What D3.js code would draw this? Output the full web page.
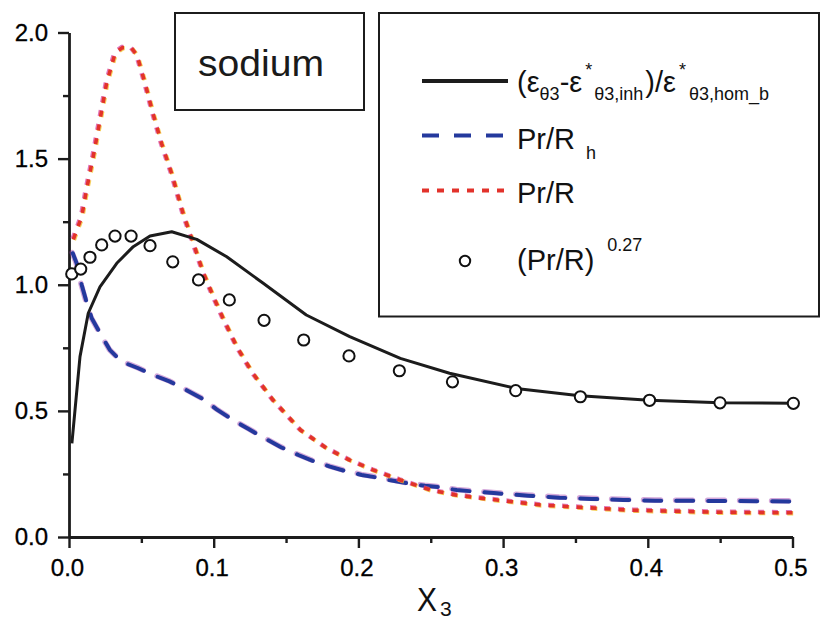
<!DOCTYPE html>
<html>
<head>
<meta charset="utf-8">
<script src="https://cdn.jsdelivr.net/npm/d3@7"></script>
<style>
  html, body { margin: 0; padding: 0; background: #fff; }
  svg { display: block; font-family: "Liberation Sans", Arial, Helvetica, sans-serif; }
</style>
</head>
<body>
<svg id="chart" width="821" height="621"></svg>
<script>
// ---- data ----
// solid: (eps_theta3 - eps*_theta3,inh) / eps*_theta3,hom_b
const solidX = [0.002, 0.0076, 0.0133, 0.0214, 0.033, 0.0444, 0.056, 0.071, 0.0883, 0.109, 0.134, 0.164, 0.194, 0.229, 0.263, 0.309, 0.353, 0.401, 0.450, 0.500];
const solidY = [0.371, 0.715, 0.887, 0.992, 1.085, 1.151, 1.193, 1.210, 1.180, 1.111, 1.007, 0.880, 0.794, 0.708, 0.649, 0.589, 0.560, 0.542, 0.532, 0.530];

// dashed: Pr/R_h
const prRhX = [0.0026, 0.0053, 0.0088, 0.0117, 0.0157, 0.0209, 0.0283, 0.0364, 0.0479, 0.0583, 0.0698, 0.080, 0.0928, 0.102, 0.1147, 0.1244, 0.1366, 0.1465, 0.1585, 0.1684, 0.1804, 0.190, 0.2023, 0.2115, 0.2241, 0.2338, 0.246, 0.2564, 0.268, 0.2956, 0.3174, 0.339, 0.361, 0.383, 0.405, 0.450, 0.500];
const prRhY = [1.125, 1.085, 0.999, 0.940, 0.867, 0.814, 0.741, 0.695, 0.669, 0.642, 0.616, 0.586, 0.546, 0.506, 0.459, 0.427, 0.387, 0.356, 0.325, 0.302, 0.279, 0.263, 0.246, 0.237, 0.223, 0.213, 0.203, 0.197, 0.186, 0.173, 0.164, 0.156, 0.151, 0.147, 0.144, 0.143, 0.141];

// dotted: Pr/R
const prRX = [0.003, 0.0088, 0.0122, 0.0168, 0.021, 0.026, 0.032, 0.037, 0.043, 0.047, 0.0525, 0.058, 0.064, 0.071, 0.079, 0.085, 0.093, 0.100, 0.106, 0.116, 0.127, 0.141, 0.160, 0.178, 0.194, 0.210, 0.229, 0.250, 0.267, 0.286, 0.306, 0.326, 0.346, 0.365, 0.385, 0.411, 0.450, 0.500];
const prRY = [1.18, 1.27, 1.38, 1.51, 1.64, 1.80, 1.92, 1.94, 1.94, 1.91, 1.80, 1.68, 1.56, 1.44, 1.28, 1.18, 1.045, 0.95, 0.873, 0.754, 0.649, 0.543, 0.424, 0.352, 0.305, 0.266, 0.226, 0.186, 0.167, 0.153, 0.140, 0.127, 0.120, 0.114, 0.107, 0.103, 0.098, 0.096];

// circles: (Pr/R)^0.27
const powX = [0.0019, 0.0081, 0.0145, 0.0226, 0.0318, 0.0429, 0.056, 0.0717, 0.0895, 0.1108, 0.1348, 0.1622, 0.1935, 0.2283, 0.265, 0.3087, 0.3534, 0.4012, 0.4499, 0.5006];
const powY = [1.043, 1.062, 1.109, 1.158, 1.193, 1.193, 1.155, 1.091, 1.019, 0.940, 0.859, 0.781, 0.718, 0.659, 0.615, 0.580, 0.556, 0.542, 0.532, 0.530];

const xTicks = [0, 0.1, 0.2, 0.3, 0.4, 0.5];
const xMinorTicks = [0.05, 0.15, 0.25, 0.35, 0.45];
const yTicks = [0, 0.5, 1.0, 1.5, 2.0];
const yMinorTicks = [0.25, 0.75, 1.25, 1.75];

// ---- setup ----
const svg = d3.select("#chart");
const x = d3.scaleLinear().domain([0, 0.5]).range([69, 792.5]);
const y = d3.scaleLinear().domain([0, 2]).range([537, 32.5]);

const zip = (xs, ys) => xs.map((v, i) => [v, ys[i]]);
const line = d3.line().x(d => x(d[0])).y(d => y(d[1])).curve(d3.curveLinear);

const colBlack = "#1c1c1c";
const colBlue = "#24399d";
const colRed = "#e2322b";

// ---- axes ----
const axisX = svg.append("g").attr("transform", `translate(0,${y(0)})`)
  .call(d3.axisBottom(x).tickValues(xTicks).tickFormat(d3.format(".1f"))
    .tickSize(11).tickSizeOuter(0).tickPadding(11));
const axisY = svg.append("g").attr("transform", `translate(${x(0)},0)`)
  .call(d3.axisLeft(y).tickValues(yTicks).tickFormat(d3.format(".1f"))
    .tickSize(11).tickSizeOuter(0).tickPadding(10));

svg.append("g").attr("transform", `translate(0,${y(0)})`)
  .call(d3.axisBottom(x).tickValues(xMinorTicks).tickFormat("").tickSize(6).tickSizeOuter(0))
  .select(".domain").remove();
svg.append("g").attr("transform", `translate(${x(0)},0)`)
  .call(d3.axisLeft(y).tickValues(yMinorTicks).tickFormat("").tickSize(6).tickSizeOuter(0))
  .select(".domain").remove();

svg.selectAll(".domain").attr("stroke", colBlack).attr("stroke-width", 2.8);
svg.selectAll(".tick line").attr("stroke", colBlack).attr("stroke-width", 2.4);
svg.selectAll(".tick text").attr("fill", "#000").style("font-size", "24px")
  .style("font-family", "'Liberation Sans', Arial, sans-serif")
  .attr("stroke", "#000").attr("stroke-width", 0.3);
axisX.selectAll(".tick text").attr("dx", "-2");

// x-axis title
const xTitle = svg.append("text").attr("x", 417).attr("y", 611)
  .style("font-size", "34px").attr("fill", "#111");
xTitle.append("tspan").attr("textLength", 20).attr("lengthAdjust", "spacingAndGlyphs").text("X");
xTitle.append("tspan").attr("dx", 3).attr("dy", 5).style("font-size", "21px").text("3");

// ---- series ----
const plot = svg.append("g");

// dashed Pr/R_h
plot.append("path").datum(zip(prRhX, prRhY)).attr("d", line)
  .attr("fill", "none").attr("stroke", "#a040b0").attr("stroke-opacity", 0.45)
  .attr("stroke-width", 5.5).attr("stroke-dasharray", "17,15").attr("stroke-linecap", "round")
  .attr("transform", "translate(-0.6,-0.6)");
plot.append("path").datum(zip(prRhX, prRhY)).attr("d", line)
  .attr("fill", "none").attr("stroke", colBlue)
  .attr("stroke-width", 4).attr("stroke-dasharray", "17,15").attr("stroke-linecap", "round");

// dotted Pr/R
plot.append("path").datum(zip(prRX, prRY)).attr("d", line)
  .attr("fill", "none").attr("stroke", "#d63c9c").attr("stroke-opacity", 0.7)
  .attr("stroke-width", 4.6).attr("stroke-dasharray", "6,8")
  .attr("transform", "translate(-0.7,-0.5)");
plot.append("path").datum(zip(prRX, prRY)).attr("d", line)
  .attr("fill", "none").attr("stroke", "#f2c230").attr("stroke-opacity", 0.8)
  .attr("stroke-width", 4.2).attr("stroke-dasharray", "6,8")
  .attr("transform", "translate(0.7,0.6)");
plot.append("path").datum(zip(prRX, prRY)).attr("d", line)
  .attr("fill", "none").attr("stroke", colRed)
  .attr("stroke-width", 3.6).attr("stroke-dasharray", "6,8");

// solid ratio curve
plot.append("path").datum(zip(solidX, solidY)).attr("d", line)
  .attr("fill", "none").attr("stroke", colBlack).attr("stroke-width", 3)
  .attr("stroke-linejoin", "round");

// open circles
plot.selectAll("circle.pow").data(zip(powX, powY)).join("circle")
  .attr("class", "pow")
  .attr("cx", d => x(d[0])).attr("cy", d => y(d[1])).attr("r", 5.6)
  .attr("fill", "#fff").attr("stroke", "#111").attr("stroke-width", 2);

// ---- label box ----
svg.append("rect").attr("x", 175).attr("y", 13).attr("width", 189).attr("height", 97)
  .attr("fill", "#fff").attr("stroke", colBlack).attr("stroke-width", 2);
svg.append("text").attr("x", 198).attr("y", 76)
  .attr("textLength", 126).attr("lengthAdjust", "spacingAndGlyphs")
  .style("font-size", "36px").attr("fill", "#1a1a1a").text("sodium");

// ---- legend ----
const lg = svg.append("g");
lg.append("rect").attr("x", 379).attr("y", 13).attr("width", 440).attr("height", 303.5)
  .attr("fill", "#fff").attr("stroke", colBlack).attr("stroke-width", 2);

// row 1: solid
lg.append("line").attr("x1", 422).attr("x2", 508).attr("y1", 81).attr("y2", 81)
  .attr("stroke", colBlack).attr("stroke-width", 4);
const t1 = lg.append("text").attr("x", 517).attr("y", 92).attr("fill", "#111").style("font-size", "29px");
const parts1 = [
  { t: "(ε", s: 29, y: 92 },
  { t: "θ3", s: 18, y: 100 },
  { t: "-ε", s: 29, y: 92 },
  { t: "*", s: 18, y: 76, dx: 3 },
  { t: "θ3,inh", s: 18, y: 100, dx: 2 },
  { t: ")/ε", s: 29, y: 92, dx: 2 },
  { t: "*", s: 18, y: 76, dx: 3 },
  { t: "θ3,hom_b", s: 18, y: 100, dx: 3 }
];
parts1.forEach(p => {
  t1.append("tspan").attr("y", p.y).attr("dx", p.dx || 0).style("font-size", p.s + "px").text(p.t);
});

// row 2: dashed
lg.append("line").attr("x1", 422).attr("x2", 503).attr("y1", 135.5).attr("y2", 135.5)
  .attr("stroke", colBlue).attr("stroke-width", 4.2).attr("stroke-dasharray", "17,15");
const t2 = lg.append("text").attr("x", 517).attr("y", 148.5).attr("fill", "#111").style("font-size", "29px");
t2.append("tspan").text("Pr/R");
t2.append("tspan").attr("dx", 11).attr("y", 158.5).style("font-size", "18px").text("h");

// row 3: dotted
lg.append("line").attr("x1", 422).attr("x2", 504).attr("y1", 190.5).attr("y2", 190.5)
  .attr("stroke", colRed).attr("stroke-width", 4).attr("stroke-dasharray", "7,8");
lg.append("text").attr("x", 517).attr("y", 203).attr("fill", "#111").style("font-size", "29px").text("Pr/R");

// row 4: circle
lg.append("circle").attr("cx", 465).attr("cy", 261).attr("r", 5.2)
  .attr("fill", "#fff").attr("stroke", "#111").attr("stroke-width", 2);
const t4 = lg.append("text").attr("x", 517).attr("y", 270).attr("fill", "#111").style("font-size", "29px");
t4.append("tspan").text("(Pr/R)");
t4.append("tspan").attr("dx", 13).attr("y", 251).style("font-size", "18px").text("0.27");
</script>
</body>
</html>
